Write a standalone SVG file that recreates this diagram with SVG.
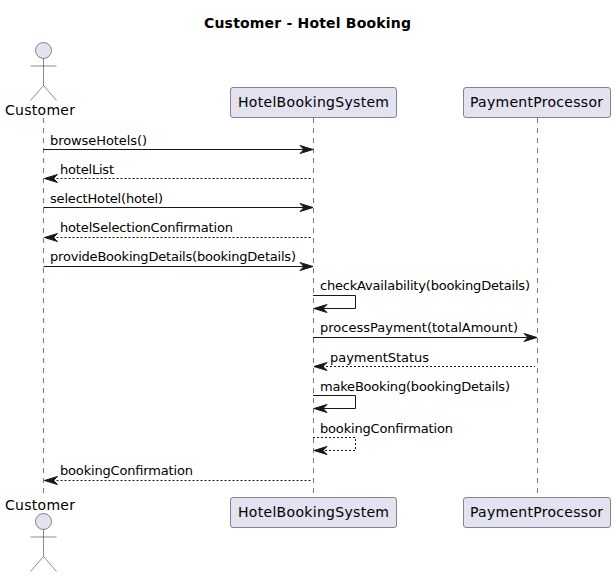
<svg xmlns="http://www.w3.org/2000/svg" width="616" height="577" viewBox="0 0 616 577">
<style>
text{font-family:"DejaVu Sans",sans-serif;fill:#000}
.m{font-size:13px}
.p{font-size:14px}
.t{font-size:14px;font-weight:bold}
.life{stroke:#777;stroke-width:1;stroke-dasharray:5 5;fill:none}
.box{fill:#E2E2F0;stroke:#181818;stroke-width:.5}
.act{fill:none;stroke:#181818;stroke-width:.5}
.head{fill:#E2E2F0;stroke:#181818;stroke-width:.5}
.l{fill:none;stroke:#181818;stroke-width:1}
.d{fill:none;stroke:#181818;stroke-width:1;stroke-dasharray:2 2}
.a{fill:#181818;stroke:#181818;stroke-width:1}
</style>
<defs>
<path id="ar" class="a" d="M0 0L-13 -4L-9 0L-13 4Z"/>
<path id="al" class="a" d="M0 0L13 -4L9 0L13 4Z"/>
</defs>
<text class="t" x="204" y="28" textLength="207">Customer - Hotel Booking</text>
<g id="connectors">
<path class="life" d="M43.5 118V497"/>
<path class="life" d="M313.5 118V497"/>
<path class="life" d="M537.5 118V497"/>
<path class="l" d="M43.5 149.500H312"/><use href="#ar" x="313" y="149.500"/>
<path class="d" d="M44.500 178.500H311"/><use href="#al" x="44.500" y="178.500"/>
<path class="l" d="M43.5 207.500H312"/><use href="#ar" x="313" y="207.500"/>
<path class="d" d="M44.500 237.500H311"/><use href="#al" x="44.500" y="237.500"/>
<path class="l" d="M43.5 266.500H312"/><use href="#ar" x="313" y="266.500"/>
<path class="l" d="M313 295.500H355.500V308.500H314"/><use href="#al" x="314" y="308.500"/>
<path class="l" d="M313 337.500H536"/><use href="#ar" x="537" y="337.500"/>
<path class="d" d="M314 366.500H535"/><use href="#al" x="314" y="366.500"/>
<path class="l" d="M313 395.500H355.500V408.500H314"/><use href="#al" x="314" y="408.500"/>
<path class="d" d="M313 437.500H355.500V450.500H314"/><use href="#al" x="314" y="450.500"/>
<path class="d" d="M44.500 480.500H311"/><use href="#al" x="44.500" y="480.500"/>
</g>
<g id="labels">
<text class="m" x="50" y="145" textLength="97">browseHotels()</text>
<text class="m" x="60" y="174" textLength="54">hotelList</text>
<text class="m" x="50" y="203" textLength="113">selectHotel(hotel)</text>
<text class="m" x="60" y="232" textLength="173">hotelSelectionConfirmation</text>
<text class="m" x="50" y="261" textLength="246">provideBookingDetails(bookingDetails)</text>
<text class="m" x="320" y="290" textLength="210">checkAvailability(bookingDetails)</text>
<text class="m" x="320" y="332" textLength="198">processPayment(totalAmount)</text>
<text class="m" x="330" y="362" textLength="99">paymentStatus</text>
<text class="m" x="320" y="391" textLength="190">makeBooking(bookingDetails)</text>
<text class="m" x="320" y="433" textLength="133">bookingConfirmation</text>
<text class="m" x="60" y="475" textLength="133">bookingConfirmation</text>
</g>
<g id="customer-top">
<circle class="head" cx="43.500" cy="50.500" r="8"/>
<path class="act" d="M43.500 58.500V85.500M30.500 66H56.500M43.500 85.500L30.500 100.500M43.500 85.500L56.500 100.500"/>
<text class="p" x="5" y="115" textLength="70">Customer</text>
</g>
<g id="system-top">
<rect class="box" x="230.500" y="87.500" width="166" height="30" rx="2.500"/>
<text class="p" x="238" y="107" textLength="151">HotelBookingSystem</text>
</g>
<g id="payment-top">
<rect class="box" x="463.500" y="87.500" width="147" height="30" rx="2.500"/>
<text class="p" x="470" y="107" textLength="133">PaymentProcessor</text>
</g>
<g id="customer-bottom">
<text class="p" x="5" y="510" textLength="70">Customer</text>
<circle class="head" cx="43.500" cy="521.500" r="8"/>
<path class="act" d="M43.500 529.500V556.500M30.500 537H56.500M43.500 556.500L30.500 571.500M43.500 556.500L56.500 571.500"/>
</g>
<g id="system-bottom">
<rect class="box" x="230.500" y="497.500" width="166" height="30" rx="2.500"/>
<text class="p" x="238" y="517" textLength="151">HotelBookingSystem</text>
</g>
<g id="payment-bottom">
<rect class="box" x="463.500" y="497.500" width="147" height="30" rx="2.500"/>
<text class="p" x="470" y="517" textLength="133">PaymentProcessor</text>
</g>
</svg>
